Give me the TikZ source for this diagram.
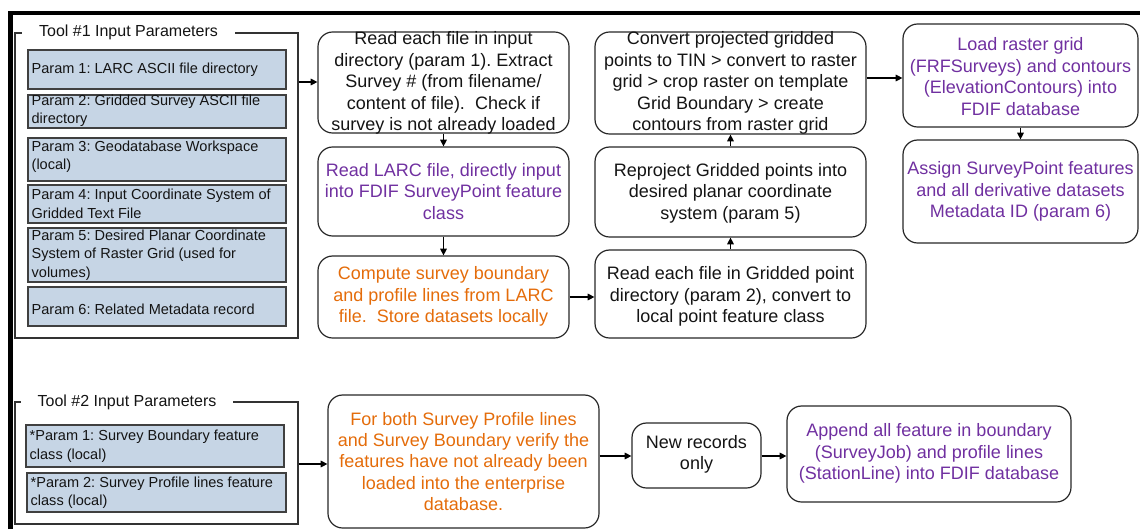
\documentclass[tikz,border=0pt]{standalone}
\usepackage{fontspec}
\setmainfont{Liberation Sans}
\usetikzlibrary{fit,arrows.meta}
\definecolor{pfill}{RGB}{198,213,229}
\definecolor{pborder}{RGB}{64,64,64}
\definecolor{purp}{RGB}{112,48,160}
\definecolor{orng}{RGB}{228,108,10}
\definecolor{txt}{RGB}{20,20,20}
\frenchspacing
\begin{document}
\begin{tikzpicture}[x=0.75pt,y=-0.75pt,
 frame/.style={draw=black!80, line width=0.9pt, inner sep=0pt},
 pbox/.style={draw=pborder, fill=pfill, line width=0.9pt, inner sep=0pt},
 ptext/.style={anchor=west, inner sep=0pt, align=left, text=txt, font=\fontsize{10.9}{13.9}\selectfont},
 ttl/.style={fill=white, inner xsep=12.5pt, inner ysep=1pt, text=txt, font=\fontsize{12}{14}\selectfont},
 rbox/.style={draw=black!85, line width=0.9pt, rounded corners=11pt, inner sep=0pt},
 mtext/.style={align=center, inner sep=0pt, font=\fontsize{13.5}{16.1}\selectfont},
 arr/.style={-{Triangle[length=5pt,width=5pt]}, line width=0.8pt, black}
]
\useasboundingbox (0,0) rectangle (1140,529);
\draw[line width=3.3pt, line join=miter] (10.5,529) -- (10.5,13) -- (1140,13);

% Tool 1 frame
\node[frame, fit={(15,33) (298,338)}] (frame1) {};
\node[ttl] (t1) at (128.5,32) {Tool \#1 Input Parameters};
\node[pbox, fit={(28,50) (286,89)}] (p1) {};
\node[pbox, fit={(28,95) (286,128)}] (p2) {};
\node[pbox, fit={(28,138) (286,181)}] (p3) {};
\node[pbox, fit={(28,185) (286,223)}] (p4) {};
\node[pbox, fit={(28,228) (286,282)}] (p5) {};
\node[pbox, fit={(28,287) (286,326)}] (p6) {};
\node[ptext] (p1t) at ([xshift=3pt]p1.west) {Param 1: LARC ASCII file directory};
\node[ptext] (p2t) at ([xshift=3pt,yshift=0.5pt]p2.west) {Param 2: Gridded Survey ASCII file\\directory};
\node[ptext] (p3t) at ([xshift=3pt,yshift=2pt]p3.west) {Param 3: Geodatabase Workspace\\(local)};
\node[ptext] (p4t) at ([xshift=3pt]p4.west) {Param 4: Input Coordinate System of\\Gridded Text File};
\node[ptext] (p5t) at ([xshift=3pt]p5.west) {Param 5: Desired Planar Coordinate\\System of Raster Grid (used for\\volumes)};
\node[ptext] (p6t) at ([xshift=3pt,yshift=-2pt]p6.west) {Param 6: Related Metadata record};

% Tool 2 frame
\node[frame, fit={(15,402) (298,524)}] (frame2) {};
\node[ttl] (t2) at (127,402) {Tool \#2 Input Parameters};
\node[pbox, fit={(26,425) (284,467)}] (q1) {};
\node[pbox, fit={(27,473) (286,512)}] (q2) {};
\node[ptext] (q1t) at ([xshift=3pt]q1.west) {*Param 1: Survey Boundary feature\\class (local)};
\node[ptext] (q2t) at ([xshift=3pt]q2.west) {*Param 2: Survey Profile lines feature\\class (local)};

% main boxes
\node[rbox, fit={(318,32) (569,133)}] (A) {};
\node[rbox, fit={(318,147) (569,236)}] (B) {};
\node[rbox, fit={(318,256) (569,338)}] (C) {};
\node[rbox, fit={(595,32) (866,134)}] (E) {};
\node[rbox, fit={(595,147) (866,237)}] (F) {};
\node[rbox, fit={(595,250) (866,338)}] (D) {};
\node[rbox, fit={(903,24) (1138,127)}] (G) {};
\node[rbox, fit={(903,140) (1138,243)}] (H) {};
\node[rbox, fit={(328,395) (599,528)}] (I) {};
\node[rbox, fit={(632,423) (761,488)}] (J) {};
\node[rbox, fit={(787,406) (1071,502)}] (K) {};

\node[mtext, text=txt] (At) at (443.5,83) {Read each file in input\\directory (param 1). Extract\\Survey \# (from filename/\\content of file).\ \ Check if\\survey is not already loaded};
\node[mtext, text=purp] (Bt) at (443.5,191.5) {Read LARC file, directly input\\into FDIF SurveyPoint feature\\class};
\node[mtext, text=orng] (Ct) at (443.5,296.5) {Compute survey boundary\\and profile lines from LARC\\file.\ \ Store datasets locally};
\node[mtext, text=txt] (Et) at (730.5,83) {Convert projected gridded\\points to TIN > convert to raster\\grid > crop raster on template\\Grid Boundary > create\\contours from raster grid};
\node[mtext, text=txt] (Ft) at (730.5,193) {Reproject Gridded points into\\desired planar coordinate\\system (param 5)};
\node[mtext, text=txt] (Dt) at (730.5,296.5) {Read each file in Gridded point\\directory (param 2), convert to\\local point feature class};
\node[mtext, text=purp] (Gt) at (1020.5,76.5) {Load raster grid\\(FRFSurveys) and contours\\(ElevationContours) into\\FDIF database};
\node[mtext, text=purp] (Ht) at (1020.5,191.5) {Assign SurveyPoint features\\and all derivative datasets\\Metadata ID (param 6)};
\node[mtext, text=orng] (It) at (463.5,461.5) {For both Survey Profile lines\\and Survey Boundary verify the\\features have not already been\\loaded into the enterprise\\database.};
\node[mtext, text=txt] (Jt) at (696.5,454.5) {New records\\only};
\node[mtext, text=purp] (Kt) at (929,453.5) {Append all feature in boundary\\(SurveyJob) and profile lines\\(StationLine) into FDIF database};

% connectors
\coordinate (y82) at (0,82);
\coordinate (y78) at (0,78);
\coordinate (y297) at (0,297);
\coordinate (y464) at (0,464);
\coordinate (y456) at (0,456);
\draw[arr] (frame1.east |- y82) -- (A.west |- y82);
\draw[arr] (A.south) -- (B.north);
\draw[arr] (B.south) -- (C.north);
\draw[arr] (C.east |- y297) -- (D.west |- y297);
\draw[arr] (D.north) -- (F.south);
\draw[arr] (F.north) -- (E.south);
\draw[arr] (E.east |- y78) -- (G.west |- y78);
\draw[arr] (G.south) -- (H.north);
\draw[arr] (frame2.east |- y464) -- (I.west |- y464);
\draw[arr] (I.east |- y456) -- (J.west |- y456);
\draw[arr] (J.east |- y456) -- (K.west |- y456);
\end{tikzpicture}
\end{document}
